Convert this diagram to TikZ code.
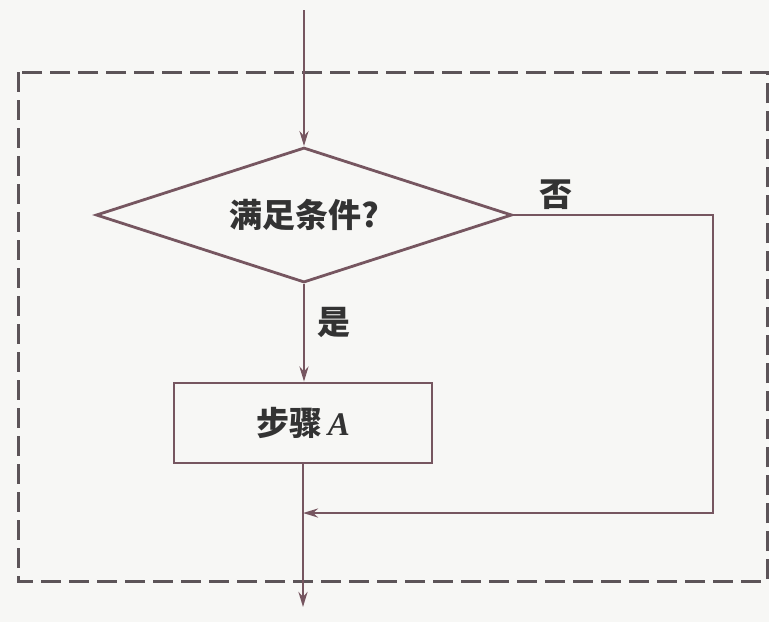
\documentclass[tikz,border=0pt]{standalone}
\usepackage{fontspec}
\newfontfamily\cjk{Noto Sans CJK SC}
\newfontfamily\latinbold{Liberation Serif}
\usetikzlibrary{shapes.geometric,arrows.meta}
\definecolor{linecol}{RGB}{118,86,96}
\definecolor{dashcol}{RGB}{92,84,88}
\definecolor{papercol}{RGB}{247,247,245}
\tikzset{
  flow/.style={draw=linecol, line width=1.4pt, -{Stealth[length=7.5pt,width=4.5pt]}},
  plain/.style={draw=linecol, line width=1.4pt},
  txt/.style={font=\cjk\bfseries\fontsize{16.5}{19}\selectfont, text=black!80}
}
\begin{document}
\begin{tikzpicture}[x=0.5pt,y=-0.5pt]
        % Paper and bounding box
        \fill[papercol] (0,0) rectangle (769,622);
        \useasboundingbox (0,0) rectangle (769,622);

        % Dashed frame
        \draw[dashcol, line width=1.5pt, dash pattern=on 10pt off 4pt] (18,72) rectangle (767,581);

        % Nodes for the flow
        \coordinate (start) at (304,10);
        \node[diamond, aspect=3, plain, minimum width=208pt, minimum height=67.5pt, inner sep=0pt, txt] (cond) at (304,215) {满足条件?};
        \node[rectangle, plain, minimum width=129pt, minimum height=40pt, inner sep=0pt, txt] (stepA) at (303,423) {步骤\,{\latinbold\bfseries\itshape A}};
        \coordinate (c1) at (713,215);
        \coordinate (c2) at (713,513);
        \coordinate (merge) at (303,513);
        \coordinate (stop) at (303,607);

        % Connectors and labels
        \draw[flow] (start) -- (cond.north);
        \draw[flow] (cond.south) -- (cond.south |- stepA.north);
        \draw[flow] (stepA.south) -- (stop);
        \draw[flow] (cond.east) -- (c1) -- (c2) -- (merge);
        \node[txt] (yes) at (334,322) {是};
        \node[txt] (no) at (556,195) {否};
      \end{tikzpicture}
\end{document}
